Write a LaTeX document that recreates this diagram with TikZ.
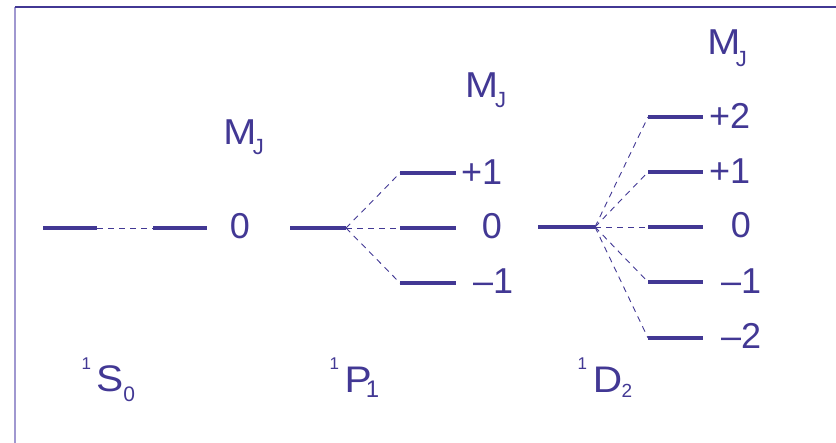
\documentclass[tikz,border=0pt]{standalone}
\usepackage{fontspec}
\setmainfont{Liberation Sans}
\newfontfamily\widefont[FakeStretch=1.1]{Liberation Sans}
\definecolor{mc}{RGB}{66,56,148}
\definecolor{lc}{RGB}{160,152,208}
\newcommand{\fs}[1]{\fontsize{#1}{#1}\selectfont}
\newcommand{\mjlab}[2]{{\widefont M}\hspace{#1pt}\raisebox{-#2pt}{\fs{22}J}}
\newcommand{\term}[8]{\raisebox{#6pt}{\fs{17}1}\hspace{#4pt}{\widefont #1}\hspace{#5pt}\raisebox{-#7pt}{\fs{#8}#2}}
\tikzset{
  level/.style={draw=mc, line width=3.6pt},
  split/.style={draw=mc, line width=0.9pt, dash pattern=on 6pt off 5pt},
  lab/.style={text=mc, inner sep=0pt, anchor=base west, font=\fs{36}},
  termlab/.style={text=mc, inner sep=0pt, anchor=base west, font=\fs{37}},
}
\begin{document}
\begin{tikzpicture}[x=1pt,y=-1pt]
\useasboundingbox (0,0) rectangle (836,443);
% frame
\draw[draw=lc, line width=2pt] (15,7) -- (15,443);
\draw[draw=mc, line width=1.5pt] (15,7) -- (836,7);

% 1S0
\coordinate (s0a) at (43,228);
\coordinate (s0b) at (97,228);
\coordinate (s0c) at (153,228);
\coordinate (s0d) at (207,228);
\draw[level] (s0a) -- (s0b);
\draw[level] (s0c) -- (s0d);
\draw[split] (s0b) -- (s0c);
\node[lab] (s0m) at (229.7,239) {0};
\node[lab] (mj1) at (223.1,145) {\mjlab{-3.5}{10}};
\node[termlab] (s0t) at (81.3,392) {\term{S}{0}{}{5.25}{0.1}{22}{10}{21}};

% 1P1
\coordinate (pa) at (290,228);
\coordinate (pb) at (346,228);
\coordinate (pu1) at (400,173);
\coordinate (pu2) at (456,173);
\coordinate (pz1) at (400,228);
\coordinate (pz2) at (456,228);
\coordinate (pl1) at (400,283);
\coordinate (pl2) at (456,283);
\draw[level] (pa) -- (pb);
\draw[level] (pu1) -- (pu2);
\draw[level] (pz1) -- (pz2);
\draw[level] (pl1) -- (pl2);
\draw[split] (pb) -- (pu1);
\draw[split] (pb) -- (pz1);
\draw[split] (pb) -- (pl1);
\node[lab] (pm1) at (460.8,185) {+1};
\node[lab] (pm2) at (481.7,239) {0};
\node[lab] (pm3) at (473,294) {–1};
\node[lab] (mj2) at (465,98) {\mjlab{-3}{10}};
\node[termlab] (pt) at (329.3,393) {\term{P}{1}{}{5.65}{-5.9}{23}{5}{24}};

% 1D2
\coordinate (da) at (538,227);
\coordinate (db) at (595,227);
\coordinate (d21) at (648,117);
\coordinate (d22) at (703,117);
\coordinate (d11) at (648,172);
\coordinate (d12) at (703,172);
\coordinate (d01) at (648,227);
\coordinate (d02) at (703,227);
\coordinate (dm11) at (648,282);
\coordinate (dm12) at (703,282);
\coordinate (dm21) at (648,338);
\coordinate (dm22) at (703,338);
\draw[level] (da) -- (db);
\foreach \n in {d2,d1,d0,dm1,dm2}{
  \draw[level] (\n1) -- (\n2);
  \draw[split] (db) -- (\n1);
}
\node[lab] (dl1) at (708.8,129) {+2};
\node[lab] (dl2) at (708.8,184) {+1};
\node[lab] (dl3) at (730.7,238) {0};
\node[lab] (dl4) at (721,294) {–1};
\node[lab] (dl5) at (721,349) {–2};
\node[lab] (mj3) at (707.1,55) {\mjlab{-4.5}{12}};
\node[termlab] (dt) at (577.3,393) {\term{D}{2}{}{5.95}{-0.6}{23}{5}{19}};
\end{tikzpicture}
\end{document}
